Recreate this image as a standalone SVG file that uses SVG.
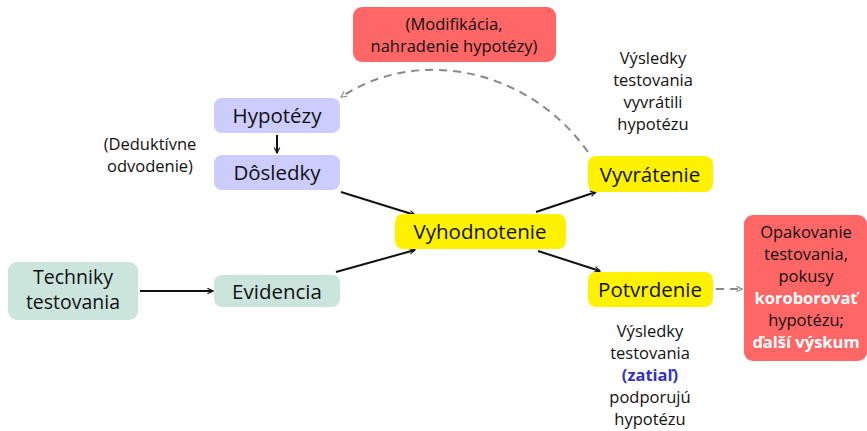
<svg xmlns="http://www.w3.org/2000/svg" width="867" height="431" viewBox="0 0 867 431">
<style>
text{font-family:"Open Sans","Noto Sans",sans-serif;fill:#111;text-anchor:middle}
.n{font-size:20.5px}
.t{font-size:19.5px}
.s{font-size:16.5px}
.w{fill:#fff;font-weight:bold}
.blue{fill:#3333bb;font-weight:bold}
.lav{fill:#ccccff}
.mint{fill:#cce5dc}
.yel{fill:#fff200}
.red{fill:#ff6666}
.c{fill:none;stroke:#111;stroke-width:2;marker-end:url(#a)}
.d{fill:none;stroke:#888;stroke-width:2;stroke-dasharray:8 6;marker-end:url(#ag)}
</style>
<defs>
<marker id="a" viewBox="0 0 10 10" refX="9" refY="5" markerWidth="7" markerHeight="7" markerUnits="userSpaceOnUse" orient="auto"><path d="M1,1 L9,5 L1,9" fill="none" stroke="#111" stroke-width="1.6"/></marker>
<marker id="ag" viewBox="0 0 10 10" refX="9" refY="5" markerWidth="7" markerHeight="7" markerUnits="userSpaceOnUse" orient="auto"><path d="M1,1 L9,5 L1,9" fill="none" stroke="#888" stroke-width="1.6"/></marker>
</defs>
<g id="connectors">
<path class="c" d="M277,135 L277,153"/>
<path class="c" d="M341,192 L415,215"/>
<path class="c" d="M336,272 L415,250"/>
<path class="c" d="M140,291 L213,291"/>
<path class="c" d="M536,212 L596,192"/>
<path class="c" d="M538,251 L600,271"/>
<path class="d" d="M588,152 C530,70 420,45 341,97"/>
<path class="d" d="M716,289 L742,289"/>
</g>
<g id="hypotezy"><rect class="lav" x="214" y="98" width="126" height="35" rx="8"/><text class="n" x="277" y="123">Hypotézy</text></g>
<g id="dosledky"><rect class="lav" x="214" y="155" width="126" height="35" rx="8"/><text class="n" x="277" y="180">Dôsledky</text></g>
<g id="deduktivne"><text class="s" x="150" y="150">(Deduktívne</text><text class="s" x="150" y="172">odvodenie)</text></g>
<g id="techniky"><rect class="mint" x="8" y="262" width="130" height="58" rx="9"/><text class="t" x="73" y="284">Techniky</text><text class="t" x="73" y="309">testovania</text></g>
<g id="evidencia"><rect class="mint" x="214" y="275" width="126" height="32" rx="8"/><text class="n" x="277" y="299">Evidencia</text></g>
<g id="vyhodnotenie"><rect class="yel" x="395" y="214" width="171" height="35" rx="8"/><text class="n" x="480" y="239">Vyhodnotenie</text></g>
<g id="vyvratenie"><rect class="yel" x="588" y="156" width="125" height="36" rx="8"/><text class="n" x="650" y="182">Vyvrátenie</text></g>
<g id="potvrdenie"><rect class="yel" x="588" y="272" width="125" height="35" rx="8"/><text class="n" x="650" y="297">Potvrdenie</text></g>
<g id="modifikacia"><rect class="red" x="353" y="7" width="203" height="55" rx="9"/><text class="s" x="454" y="30">(Modifikácia,</text><text class="s" x="454" y="52">nahradenie hypotézy)</text></g>
<g id="vysledky-vyvratili"><text class="s" x="653" y="64">Výsledky</text><text class="s" x="653" y="86">testovania</text><text class="s" x="653" y="108">vyvrátili</text><text class="s" x="653" y="130">hypotézu</text></g>
<g id="vysledky-podporuju"><text class="s" x="650" y="337">Výsledky</text><text class="s" x="650" y="359">testovania</text><text class="s blue" x="650" y="381">(zatiaľ)</text><text class="s" x="650" y="403">podporujú</text><text class="s" x="650" y="425">hypotézu</text></g>
<g id="opakovanie"><rect class="red" x="744" y="215" width="123" height="146" rx="9"/><text class="s" x="806" y="238">Opakovanie</text><text class="s" x="806" y="260">testovania,</text><text class="s" x="806" y="282">pokusy</text><text class="s w" x="806" y="304">koroborovať</text><text class="s" x="806" y="326">hypotézu;</text><text class="s w" x="806" y="348">ďalší výskum</text></g>
</svg>
